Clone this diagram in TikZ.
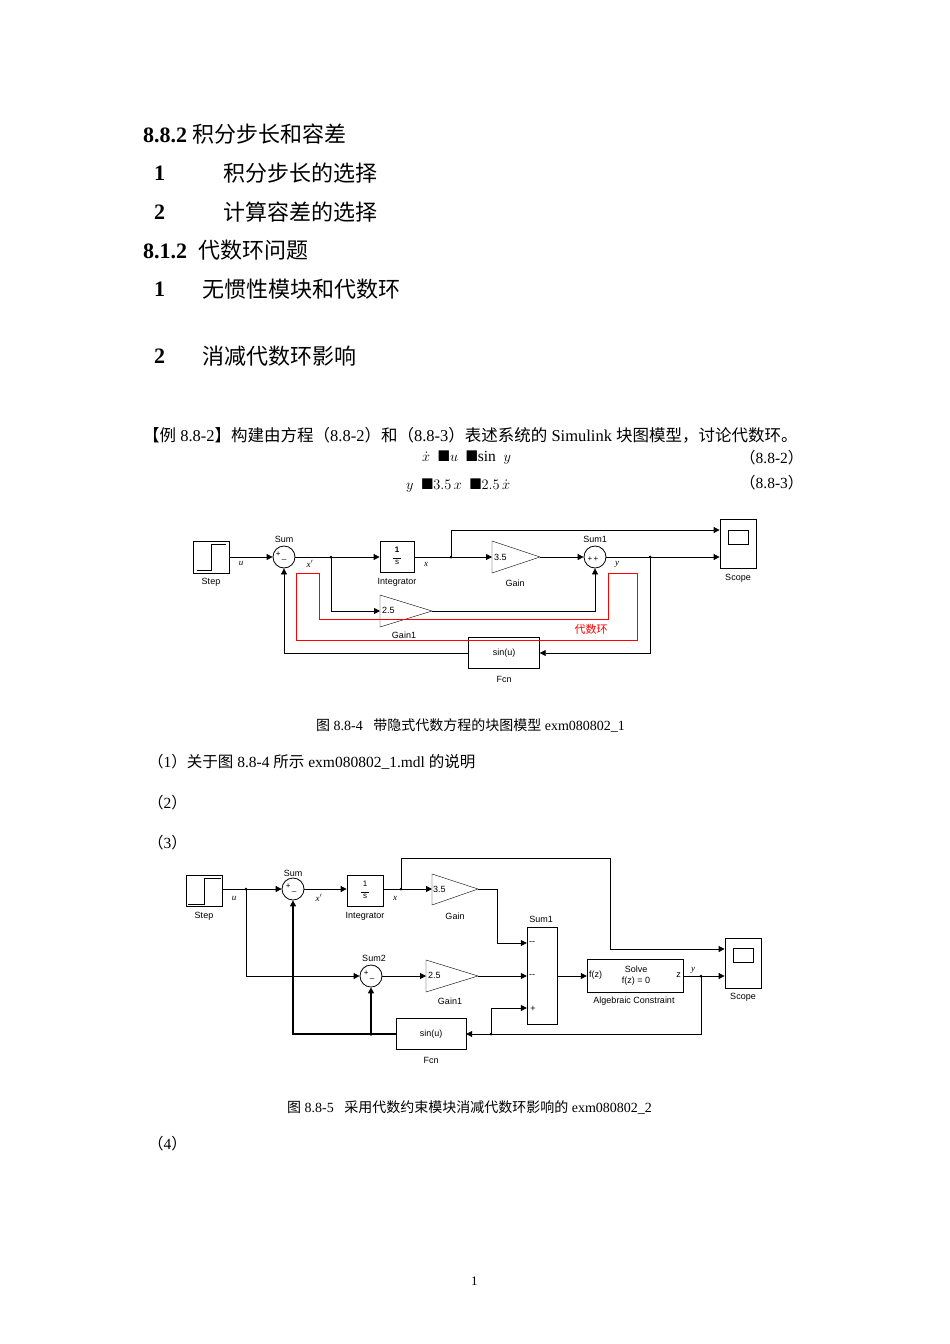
\documentclass[tikz,border=0pt]{standalone}
\usepackage{amssymb}
\usepackage{fontspec}
\setmainfont{Liberation Serif}
\newfontfamily\cjk{Noto Sans CJK SC}
\newfontfamily\hv{Liberation Sans}
\usetikzlibrary{arrows.meta,positioning}
\begin{document}
\begin{tikzpicture}[x=1pt,y=-1pt,
 blk/.style={draw,thick,minimum width=0pt,inner sep=0pt},
 lbl/.style={font=\hv\fontsize{9}{10}\selectfont,inner sep=0pt},
 sig/.style={font=\itshape\fontsize{9}{10}\selectfont,inner sep=0pt},
 wire/.style={line width=0.8pt},
 ar/.style={wire,-{Triangle[length=6pt,width=6pt]}},
 red/.style={draw=red,line width=0.7pt},
 tx/.style={anchor=west,inner sep=0pt,font=\fontsize{22}{23}\selectfont},
 body/.style={anchor=west,inner sep=0pt,font=\fontsize{15.5}{17}\selectfont}]
\useasboundingbox[fill=white] (0,0) rectangle (950,1344);
% text
\node[tx] (h1) at (143,134) {\textbf{8.8.2} {\cjk 积分步长和容差}};
\node[tx] (h2) at (154,173) {\textbf{1}};
\node[tx] (h2t) at (223,173) {\cjk 积分步长的选择};
\node[tx] (h3) at (154,212) {\textbf{2}};
\node[tx] (h3t) at (223,212) {\cjk 计算容差的选择};
\node[tx] (h4) at (143,250) {\textbf{8.1.2} \ {\cjk 代数环问题}};
\node[tx] (h5) at (154,289) {\textbf{1}};
\node[tx] (h5t) at (202,289) {\cjk 无惯性模块和代数环};
\node[tx] (h6) at (154,356) {\textbf{2}};
\node[tx] (h6t) at (202,356) {\cjk 消减代数环影响};
\node[body,font=\fontsize{16.5}{18}\selectfont] (ex) at (143,435) {{\cjk 【例} 8.8-2{\cjk 】构建由方程（}8.8-2{\cjk ）和（}8.8-3{\cjk ）表述系统的} Simulink {\cjk 块图模型，讨论代数环。}};
\node[body] (e1) at (422,458) {$\dot x\ \ \blacksquare u\ \ \blacksquare\mathrm{sin}\ \ y$};
\node[body] (e1n) at (740,458) {{\cjk （}8.8-2{\cjk ）}};
\node[body] (e2) at (406,486) {$y\ \ \blacksquare 3.5\,x\ \ \blacksquare 2.5\,\dot x$};
\node[body] (e2n) at (740,483) {{\cjk （}8.8-3{\cjk ）}};
\node[body,font=\fontsize{14}{16}\selectfont] (c1) at (316,725) {{\cjk 图} 8.8-4\ \ \ {\cjk 带隐式代数方程的块图模型} exm080802\_1};
\node[body] (p1) at (148,762) {{\cjk （}1{\cjk ）关于图} 8.8-4 {\cjk 所示} exm080802\_1.mdl {\cjk 的说明}};
\node[body] (p2) at (148,803) {{\cjk （}2{\cjk ）}};
\node[body] (p3) at (148,843) {{\cjk （}3{\cjk ）}};
\node[body,font=\fontsize{14}{16}\selectfont] (c2) at (287,1107) {{\cjk 图} 8.8-5\ \ \ {\cjk 采用代数约束模块消减代数环影响的} exm080802\_2};
\node[body] (p4) at (148,1144) {{\cjk （}4{\cjk ）}};
\node[body,font=\fontsize{13}{14}\selectfont] (pg) at (471,1281) {1};

% ===== Diagram 1 =====
\node[blk,minimum width=36,minimum height=32] (st) at (211,557) {};
\draw[wire] (197,570)--(211,570)--(211,544)--(226,544);
\node[lbl,below=5pt of st] {Step};
\node[draw,thick,circle,minimum size=22,inner sep=0] (sm) at (284,557) {};
\node[lbl,font=\hv\fontsize{8}{9}\selectfont] at (281,556) {+\,\raisebox{-2pt}{\_}};
\node[lbl,above=3pt of sm] {Sum};
\node[blk,minimum width=34,minimum height=31] (in) at (397,557) {\hv\fontsize{8}{9}\selectfont\begin{tabular}{@{}c@{}}\textbf{1}\\[-3pt]\rule{8pt}{0.4pt}\\[-3pt]s\end{tabular}};
\node[lbl,below=5pt of in] {Integrator};
\draw[thin] (492,541)--(540,557)--(492,573)--cycle;
\coordinate (ga) at (492,557); \coordinate (gat) at (540,557);
\node[lbl,anchor=west] at (494,557) {3.5};
\node[lbl] at (515,583) {Gain};
\node[draw,thick,circle,minimum size=22,inner sep=0] (s1) at (595,557) {};
\node[lbl,font=\hv\fontsize{8}{9}\selectfont] at (593,559) {+\,+};
\node[lbl,above=3pt of s1] {Sum1};
\node[blk,minimum width=36,minimum height=49] (sc) at (738,544) {};
\draw (728,530) rectangle (748,544);
\node[lbl] at (738,578) {Scope};
\draw[thin] (380,595)--(432,611)--(380,627)--cycle;
\coordinate (g1) at (380,611); \coordinate (g1t) at (432,611);
\node[lbl,anchor=west] at (382,610) {2.5};
\node[lbl] at (404,635) {Gain1};
\node[draw,thin,minimum width=71,minimum height=31,inner sep=0] (fc) at (504,653) {\hv\fontsize{9}{10}\selectfont sin(u)};
\node[lbl] at (504,679) {Fcn};
\draw[ar] (st.east)--(sm.west);
\draw[ar] (sm.east)--(in.west);
\draw[ar] (in.east)--(ga);
\draw[ar] (gat)--(s1.west);
\draw[ar] (s1.east)--(sc.west|-s1);
\draw[ar] (451,557)--(451,530)--(sc.west|-0,530);
\draw[ar] (331,557)--(331,611)--(g1);
\draw[ar] (g1t)--(595,611)--(s1.south);
\draw[ar] (650,557)--(650,653)--(fc.east);
\draw[ar] (fc.west)--(284,653)--(sm.south);
\fill (331,557) circle (1.5) (451,557) circle (1.5) (650,557) circle (1.5);
\node[sig] at (241,563) {u};
\node[sig] at (310,564) {x$'$};
\node[sig] at (426,564) {x};
\node[sig] at (617,564) {y};
\draw[red] (296,573)--(319,573)--(319,619)--(608,619)--(608,573)--(637,573)--(637,640)--(296,640)--cycle;
\node[text=red,inner sep=0,font=\cjk\fontsize{11}{12}\selectfont] at (591,629) {代数环};

% ===== Diagram 2 =====
\node[blk,minimum width=36,minimum height=31] (st2) at (204,891) {};
\draw[wire] (188,904)--(204,904)--(204,878)--(221,878);
\node[lbl] at (204,916) {Step};
\node[draw,thick,circle,minimum size=22,inner sep=0] (sa) at (293,889) {};
\node[lbl,font=\hv\fontsize{8}{9}\selectfont] at (291,888) {+\,\raisebox{-2pt}{\_}};
\node[lbl] at (293,873) {Sum};
\node[blk,minimum width=36,minimum height=31] (in2) at (365,891) {\hv\fontsize{8}{9}\selectfont\begin{tabular}{@{}c@{}}1\\[-3pt]\rule{8pt}{0.4pt}\\[-3pt]s\end{tabular}};
\node[lbl] at (365,916) {Integrator};
\draw[thin] (432,874)--(478,889)--(432,905)--cycle;
\coordinate (gb) at (432,889); \coordinate (gbt) at (478,889);
\node[lbl,anchor=west] at (433,889) {3.5};
\node[lbl] at (455,916) {Gain};
\node[draw,thin,minimum width=30,minimum height=97,inner sep=0] (sb) at (542,976) {};
\node[lbl] at (541,919) {Sum1};
\node[lbl] at (532,943) {--};
\node[lbl] at (532,976) {--};
\node[lbl] at (533,1009) {+};
\node[draw,thick,circle,minimum size=22,inner sep=0] (sc2) at (371,976) {};
\node[lbl,font=\hv\fontsize{8}{9}\selectfont] at (369,975) {+\,\raisebox{-2pt}{\_}};
\node[lbl] at (374,958) {Sum2};
\draw[thin] (426,960)--(478,976)--(426,992)--cycle;
\coordinate (gc) at (426,976); \coordinate (gct) at (478,976);
\node[lbl,anchor=west] at (428,975) {2.5};
\node[lbl] at (450,1001) {Gain1};
\node[draw,thin,minimum width=96,minimum height=33,inner sep=0] (ac) at (635,976) {};
\node[lbl,anchor=west] at (589,975) {f(z)};
\node[lbl,anchor=east] at (681,975) {z};
\node[lbl,align=center] at (636,976) {Solve\\[1pt]f(z) = 0};
\node[lbl] at (634,1001) {Algebraic Constraint};
\node[blk,minimum width=36,minimum height=50] (sp2) at (743,963) {};
\draw (733,948) rectangle (753,962);
\node[lbl] at (743,997) {Scope};
\node[draw,thin,minimum width=70,minimum height=31,inner sep=0] (fc2) at (431,1034) {\hv\fontsize{9}{10}\selectfont sin(u)};
\node[lbl] at (431,1060) {Fcn};
\draw[ar] (st2.east|-sa)--(sa.west);
\draw[ar] (sa.east)--(in2.west|-sa);
\draw[ar] (in2.east|-gb)--(gb);
\draw[ar] (gbt)--(497,889)--(497,943)--(sb.west|-0,943);
\draw[ar] (401,889)--(401,858)--(610,858)--(610,949)--(sp2.west|-0,949);
\draw[ar] (246,889)--(246,976)--(sc2.west);
\draw[ar] (sc2.east)--(gc);
\draw[ar] (gct)--(sb.west|-gct);
\draw[ar] (sb.east|-ac)--(ac.west);
\draw[ar] (ac.east)--(sp2.west|-ac);
\draw[ar] (701,976)--(701,1034)--(fc2.east);
\draw[ar] (491,1034)--(491,1008)--(sb.west|-0,1008);
\draw[ar,line width=1.3pt] (fc2.west)--(293,1034)--(sa.south);
\draw[ar,line width=1.3pt] (371,1034)--(sc2.south);
\fill (246,889) circle (1.5) (401,889) circle (1.5) (701,976) circle (1.5) (491,1034) circle (1.5) (371,1034) circle (1.8);
\node[sig] at (234,898) {u};
\node[sig] at (319,898) {x$'$};
\node[sig] at (395,898) {x};
\node[sig] at (693,970) {y};
\end{tikzpicture}
\end{document}
